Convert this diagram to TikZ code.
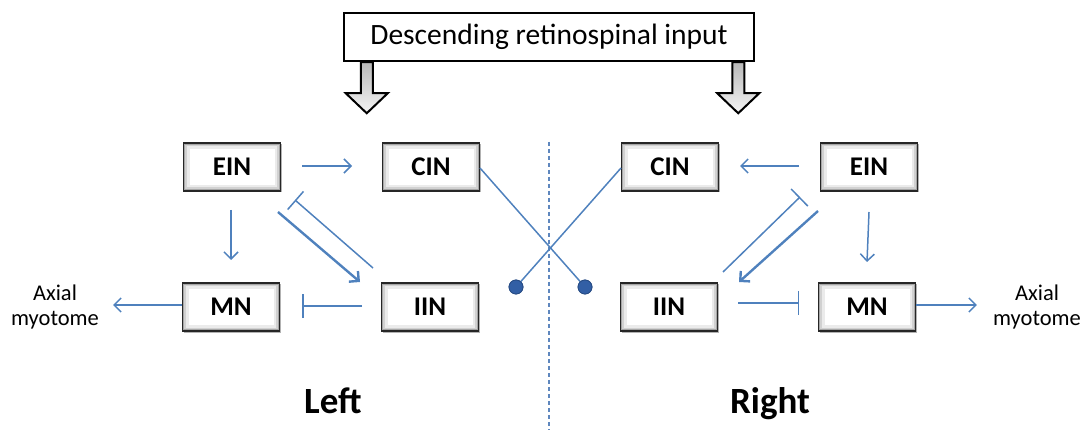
\documentclass[tikz,border=0pt]{standalone}
\usepackage{fontspec}
\setmainfont{Carlito}
\usetikzlibrary{arrows.meta,calc,shadows}
\definecolor{lblue}{RGB}{79,129,189}
\definecolor{dblue}{RGB}{50,95,165}
\definecolor{dashc}{RGB}{95,135,190}
\begin{document}
\begin{tikzpicture}[x=1pt,y=-1pt,
  nbox/.style={draw=black!85, line width=1.6pt, minimum width=97pt, minimum height=48pt,
    fill=white,
    path picture={
      \draw[black!8, line width=12pt] (path picture bounding box.south west) rectangle (path picture bounding box.north east);
      \draw[black!18, line width=7pt] (path picture bounding box.south west) rectangle (path picture bounding box.north east);
      \draw[black!35, line width=3.5pt] (path picture bounding box.south west) rectangle (path picture bounding box.north east);
    },
    drop shadow={shadow xshift=1.5pt, shadow yshift=-1.5pt, opacity=0.3, fill=black},
    font=\bfseries\fontsize{27}{30}\selectfont},
  conn/.style={draw=lblue, line width=1.5pt},
  exc/.style={conn, -{Straight Barb[length=7pt,width=14pt]}},
  exct/.style={exc, line width=2.4pt},
  inh/.style={conn, -{Bar[width=24pt]}},
  ball/.style={circle, fill=dblue, draw=dblue!80!black, line width=0.8pt, minimum size=14pt, inner sep=0pt},
  axtxt/.style={align=center, inner sep=0pt, font=\fontsize{22.5}{25}\selectfont},
  side/.style={anchor=base, inner sep=0pt, font=\bfseries\fontsize{37}{40}\selectfont},
  hollow/.pic={\draw[black, line width=2pt, line join=miter, top color=gray!55, bottom color=gray!8]
     (-6,0) -- (-6,31) -- (-21,31) -- (0,51) -- (21,31) -- (6,31) -- (6,0) -- cycle;}
]
\useasboundingbox (0,0) rectangle (1084,430);

% dashed midline
\draw[dashc, line width=1.2pt, dash pattern=on 4pt off 3pt] (549,142) -- (549,430);

% top box and hollow arrows
\node[draw=black, line width=2.5pt, fill=white, minimum width=410pt, minimum height=48pt,
  font=\fontsize{29.5}{32}\selectfont] (top) at (549,37) {Descending retinospinal input};
\pic at ($(top.south west)+(24,0)$) {hollow};
\pic at ($(top.south east)+(-17,0)$) {hollow};

% nodes
\node[nbox] (EINL) at (232,167) {EIN};
\node[nbox] (CINL) at (431,167) {CIN};
\node[nbox] (MNL)  at (231,307) {MN};
\node[nbox] (IINL) at (430,307) {IIN};
\node[nbox] (CINR) at (670,167) {CIN};
\node[nbox] (EINR) at (869,167) {EIN};
\node[nbox] (IINR) at (669,307) {IIN};
\node[nbox] (MNR)  at (867,307) {MN};

\node[axtxt] (axL) at (55,307) {Axial\\myotome};
\node[axtxt] (axR) at (1037,307) {Axial\\myotome};

\node[side] (left) at (333,413) {Left};
\node[side] (right) at (770,413) {Right};

% left connectors
\draw[exc] ($(EINL)+(70,-1)$) -- ($(CINL)+(-79,-1)$);
\draw[exc] ($(EINL)+(-1,43)$) -- ($(MNL)+(0,-47)$);
\draw[inh] ($(IINL)+(-57,-39)$) -- ($(EINL)+(63,33)$);
\draw[exct] ($(EINL)+(46,45)$) -- ($(IINL)+(-70,-25)$);
\draw[inh] ($(IINL)+(-68,-1)$) -- ($(MNL)+(71,-1)$);
\draw[exc] ($(MNL.west)+(0,-2)$) -- ($(axL.east)+(14,-2)$);

% right connectors
\draw[exc] ($(EINR)+(-70,-1)$) -- ($(CINR)+(70,-1)$);
\draw[inh] ($(IINR)+(54,-35)$) -- ($(EINR)+(-69,30)$);
\draw[exct] ($(EINR)+(-51,44)$) -- ($(IINR)+(70,-25)$);
\draw[exc] ($(EINR)+(0,45)$) -- ($(MNR)+(0,-45)$);
\draw[inh] ($(IINR)+(69,-4)$) -- ($(MNR)+(-68,-4)$);
\draw[exc] ($(MNR.east)+(0,-2)$) -- ($(axR.west)+(-16,-2)$);

% crossing commissural connectors
\node[ball] (ballL) at (516,287) {};
\node[ball] (ballR) at (585,287) {};
\draw[conn] ($(CINL)+(49,1)$) -- (ballR.center);
\draw[conn] ($(CINR)+(-49,1)$) -- (ballL.center);
\node[ball] at (ballL) {};
\node[ball] at (ballR) {};
\end{tikzpicture}
\end{document}
